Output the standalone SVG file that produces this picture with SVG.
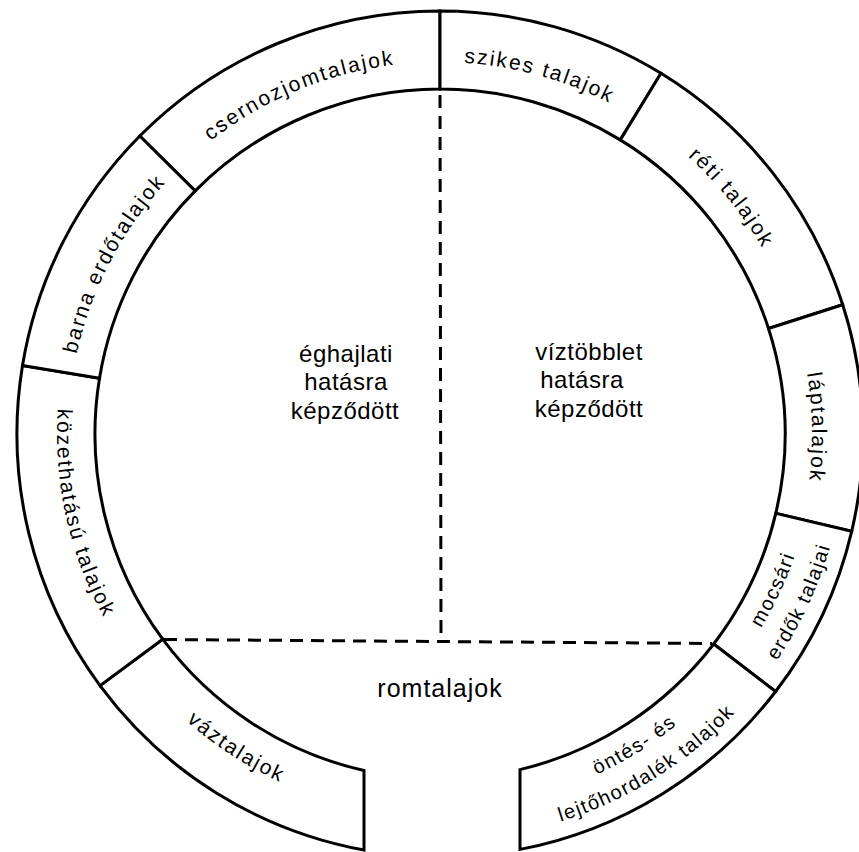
<svg xmlns="http://www.w3.org/2000/svg" xmlns:xlink="http://www.w3.org/1999/xlink" width="859" height="852" viewBox="0 0 859 852">
<style>
.seg{fill:#fff;stroke:#000;stroke-width:3;stroke-linejoin:miter}
.lbl{font-family:"Liberation Sans",Arial,sans-serif;font-size:21px;letter-spacing:2px;fill:#000}
.lbl2{font-family:"Liberation Sans",Arial,sans-serif;font-size:20px;letter-spacing:1.5px;fill:#000}
.ctr{font-family:"Liberation Sans",Arial,sans-serif;font-size:24px;letter-spacing:0.5px;text-anchor:middle;fill:#000}
.dash{stroke:#000;stroke-width:3;stroke-dasharray:13 8;fill:none}
</style>
<defs>
<path id="p-cser" d="M 110.0 262.2 A 372 372 0 0 1 551.9 79.2"/>
<path id="p-szik" d="M 285.7 95.5 A 372 372 0 0 1 746.6 223.3"/>
<path id="p-reti" d="M 511.0 68.8 A 372 372 0 0 1 811.9 440.5"/>
<path id="p-lap" d="M 720.8 189.9 A 372 372 0 0 1 729.1 668.1"/>
<path id="p-barna" d="M 76.8 514.5 A 372 372 0 0 1 297.6 90.3"/>
<path id="p-kozet" d="M 100.3 257.2 A 383 383 0 0 0 206.8 737.9"/>
<path id="p-vaz" d="M 73.7 546.0 A 383 383 0 0 0 486.7 814.1"/>
<path id="p-mocs1" d="M 598.5 774.0 A 375 375 0 0 0 802.2 336.9"/>
<path id="p-mocs2" d="M 611.6 802.0 A 406 406 0 0 0 832.2 328.9"/>
<path id="p-ont1" d="M 387.8 805.4 A 375 375 0 0 0 796.6 549.9"/>
<path id="p-ont2" d="M 383.5 836.0 A 406 406 0 0 0 826.1 559.5"/>
</defs>

<g id="csernozjomtalajok">
<path class="seg" d="M 139.8 136.0 A 423 423 0 0 1 440 11 L 440 89 A 345 345 0 0 0 195.2 190.9 Z"/>
<text class="lbl"><textPath xlink:href="#p-cser" href="#p-cser" startOffset="50%" text-anchor="middle">csernozjomtalajok</textPath></text>
</g>
<g id="szikes-talajok">
<path class="seg" d="M 440 11 A 423 423 0 0 1 661.0 73.3 L 620.3 139.9 A 345 345 0 0 0 440 89 Z"/>
<text class="lbl"><textPath xlink:href="#p-szik" href="#p-szik" startOffset="50%" text-anchor="middle">szikes  talajok</textPath></text>
</g>
<g id="reti-talajok">
<path class="seg" d="M 661.0 73.3 A 423 423 0 0 1 842.7 304.7 L 768.5 328.5 A 345 345 0 0 0 620.3 139.9 Z"/>
<text class="lbl"><textPath xlink:href="#p-reti" href="#p-reti" startOffset="50%" text-anchor="middle">réti talajok</textPath></text>
</g>
<g id="laptalajok">
<path class="seg" d="M 842.7 304.7 A 423 423 0 0 1 851.7 531.3 L 775.8 513.4 A 345 345 0 0 0 768.5 328.5 Z"/>
<text class="lbl"><textPath xlink:href="#p-lap" href="#p-lap" startOffset="50%" text-anchor="middle">láptalajok</textPath></text>
</g>
<g id="mocsari-erdok-talajai">
<path class="seg" d="M 851.7 531.3 A 423 423 0 0 1 775.6 691.5 L 713.7 644.0 A 345 345 0 0 0 775.8 513.4 Z"/>
<text class="lbl2"><textPath xlink:href="#p-mocs1" href="#p-mocs1" startOffset="50%" text-anchor="middle">mocsári</textPath></text>
<text class="lbl2"><textPath xlink:href="#p-mocs2" href="#p-mocs2" startOffset="50%" text-anchor="middle">erdők talajai</textPath></text>
</g>
<g id="ontes-es-lejtohordalek-talajok">
<path class="seg" d="M 775.6 691.5 A 423 423 0 0 1 520 849.4 L 520 769.6 A 345 345 0 0 0 713.7 644.0 Z"/>
<text class="lbl2"><textPath xlink:href="#p-ont1" href="#p-ont1" startOffset="50%" text-anchor="middle">öntés- és</textPath></text>
<text class="lbl2"><textPath xlink:href="#p-ont2" href="#p-ont2" startOffset="50%" text-anchor="middle">lejtőhordalék talajok</textPath></text>
</g>
<g id="vaztalajok">
<path class="seg" d="M 364 850.1 A 423 423 0 0 1 100.0 685.6 L 162.7 639.2 A 345 345 0 0 0 364 770.5 Z"/>
<text class="lbl"><textPath xlink:href="#p-vaz" href="#p-vaz" startOffset="50%" text-anchor="middle">váztalajok</textPath></text>
</g>
<g id="kozethatasu-talajok">
<path class="seg" d="M 100.0 685.6 A 423 423 0 0 1 22.5 365.6 L 99.5 378.2 A 345 345 0 0 0 162.7 639.2 Z"/>
<text class="lbl"><textPath xlink:href="#p-kozet" href="#p-kozet" startOffset="50%" text-anchor="middle">közethatású talajok</textPath></text>
</g>
<g id="barna-erdotalajok">
<path class="seg" d="M 22.5 365.6 A 423 423 0 0 1 139.8 136.0 L 195.2 190.9 A 345 345 0 0 0 99.5 378.2 Z"/>
<text class="lbl"><textPath xlink:href="#p-barna" href="#p-barna" startOffset="50%" text-anchor="middle">barna erdőtalajok</textPath></text>
</g>

<g id="connectors">
<line class="dash" x1="440" y1="95" x2="441" y2="634"/>
<line class="dash" x1="164" y1="639.5" x2="712" y2="643.5"/>
</g>

<g id="eghajlati">
<text class="ctr" x="346" y="362">éghajlati</text>
<text class="ctr" x="346" y="390">hatásra</text>
<text class="ctr" x="345" y="419">képződött</text>
</g>
<g id="viztobblet">
<text class="ctr" x="589" y="360">víztöbblet</text>
<text class="ctr" x="582" y="388">hatásra</text>
<text class="ctr" x="589" y="417">képződött</text>
</g>
<g id="romtalajok">
<text class="ctr" x="440" y="697" style="font-size:25px;letter-spacing:1px">romtalajok</text>
</g>
</svg>
